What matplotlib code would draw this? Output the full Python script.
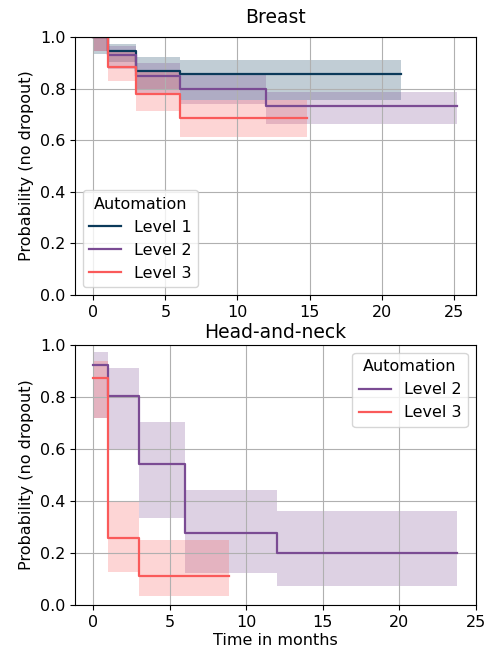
import matplotlib
matplotlib.use("Agg")
import matplotlib.pyplot as plt

# Breast, Kaplan-Meier style estimates
br_l1_t = [0, 1, 3, 6, 21.3]
br_l1_s = [1.0, 0.944, 0.870, 0.857, 0.857]
br_l1_lo = [0.936, 0.905, 0.800, 0.757, 0.757]
br_l1_hi = [1.0, 0.971, 0.922, 0.912, 0.912]

br_l2_t = [0, 1, 3, 6, 12, 25.24]
br_l2_s = [1.0, 0.931, 0.848, 0.800, 0.733, 0.733]
br_l2_lo = [0.945, 0.875, 0.780, 0.740, 0.662, 0.662]
br_l2_hi = [1.0, 0.965, 0.900, 0.860, 0.787, 0.787]

br_l3_t = [0, 1, 3, 6, 14.8]
br_l3_s = [1.0, 0.883, 0.780, 0.687, 0.687]
br_l3_lo = [0.945, 0.828, 0.713, 0.612, 0.612]
br_l3_hi = [1.0, 0.940, 0.870, 0.754, 0.754]

# Head-and-neck
hn_l2_t = [0, 1, 3, 6, 12, 23.8]
hn_l2_s = [0.923, 0.805, 0.541, 0.276, 0.199, 0.199]
hn_l2_lo = [0.718, 0.600, 0.333, 0.124, 0.074, 0.074]
hn_l2_hi = [0.974, 0.910, 0.705, 0.442, 0.363, 0.363]

hn_l3_t = [0, 1, 3, 8.9]
hn_l3_s = [0.872, 0.256, 0.111, 0.111]
hn_l3_lo = [0.718, 0.128, 0.035, 0.035]
hn_l3_hi = [0.940, 0.400, 0.250, 0.250]

colors = {"Level 1": "#0b3a5a", "Level 2": "#7a4b93", "Level 3": "#fa5a5a"}

plt.rcParams["font.size"] = 11.5

fig = plt.figure(figsize=(4.85, 6.55), dpi=100)
ax1 = fig.add_axes([0.1546, 0.5496, 0.826, 0.3939])
ax2 = fig.add_axes([0.1546, 0.0763, 0.826, 0.3970])


def km(ax, t, s, lo, hi, label):
    c = colors[label]
    ax.step(t, s, where="post", color=c, lw=1.6, label=label)
    ax.fill_between(t, lo, hi, step="post", color=c, alpha=0.25, lw=0)


km(ax1, br_l1_t, br_l1_s, br_l1_lo, br_l1_hi, "Level 1")
km(ax1, br_l2_t, br_l2_s, br_l2_lo, br_l2_hi, "Level 2")
km(ax1, br_l3_t, br_l3_s, br_l3_lo, br_l3_hi, "Level 3")
ax1.set_title("Breast", fontsize=13.5, pad=10)
ax1.legend(title="Automation", loc="lower left", title_fontsize=11.5)

km(ax2, hn_l2_t, hn_l2_s, hn_l2_lo, hn_l2_hi, "Level 2")
km(ax2, hn_l3_t, hn_l3_s, hn_l3_lo, hn_l3_hi, "Level 3")
ax2.set_title("Head-and-neck", fontsize=13.5, pad=5)
ax2.legend(title="Automation", loc="upper right", title_fontsize=11.5)
ax2.set_xlabel("Time in months", labelpad=2)

for ax in (ax1, ax2):
    ax.set_ylim(0, 1)
    ax.set_xticks([0, 5, 10, 15, 20, 25])
    ax.grid(True)
    ax.set_ylabel("Probability (no dropout)")

fig.savefig("out.png", dpi=100)
